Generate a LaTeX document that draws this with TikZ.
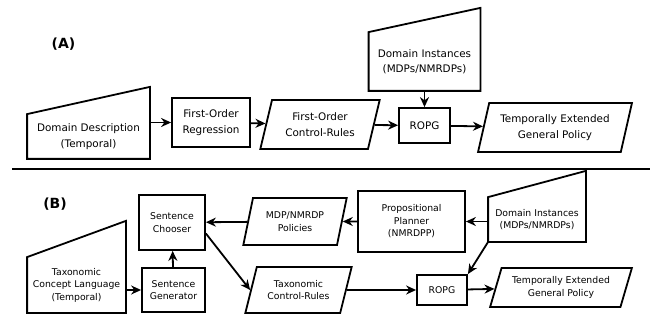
\documentclass[tikz,border=0pt]{standalone}
\usepackage{fontspec}
\setmainfont{DejaVu Sans}
\usetikzlibrary{calc,shapes.geometric,arrows.meta}

\begin{document}
\begin{tikzpicture}[x=1pt, y=1pt, >={Stealth[length=10pt,width=9pt]},
block/.style={rectangle, draw, line width=1.8pt, align=center, inner sep=2pt},
para/.style={trapezium, draw, line width=1.8pt, align=center, inner sep=2pt,
      trapezium stretches=true},
manin/.style={rectangle, align=center, inner sep=2pt},
shp/.style={line width=1.8pt, line join=miter},
lbl/.style={font=\fontsize{14}{16}\selectfont\bfseries},
fA/.style={font=\fontsize{10.4}{15.5}\selectfont},
fB/.style={font=\fontsize{9.3}{12.5}\selectfont},
every path/.append style={line width=1.8pt}]
 \useasboundingbox (0,0) rectangle (655,-320);

 % (A) first-order pipeline
 \node[lbl] (labA) at (63.5,-44) {(A)};
 \node[manin, fA, minimum width=121, minimum height=43] (desc) at (88.5,-136.5) {Domain Description\\(Temporal)};
 \node[block, fA, minimum width=78, minimum height=49] (regr) at (211,-122.5) {First-Order\\Regression};
 \node[para, fA, trapezium left angle=72, trapezium right angle=108, minimum width=120, minimum height=49,
   right of=regr, node distance=109pt, yshift=-2pt] (ctrlA) {First-Order\\Control-Rules};
 \node[block, fA, minimum width=51, minimum height=35, right of=ctrlA, node distance=104.5pt, yshift=-1pt] (ropgA) {ROPG};
 \node[para, fA, trapezium left angle=72, trapezium right angle=108, minimum width=154, minimum height=49,
   right of=ropgA, node distance=130.5pt, yshift=-2pt] (polA) {Temporally Extended\\General Policy};
 \node[manin, fA, minimum width=110, minimum height=57, above of=ropgA, node distance=64pt] (instA) {Domain Instances\\(MDPs/NMRDPs)};

 \draw[shp] (desc.south west) -- (desc.south east) -- ++(0,72) -- (desc.north west) -- cycle;
 \draw[shp] (instA.south west) -- (instA.south east) -- ++(0,83) -- (instA.north west) -- cycle;

 \draw[->] (desc.east |- regr) -- (regr);
 \draw[->] (regr) -- (ctrlA);
 \draw[->] (ctrlA) -- (ropgA);
 \draw[->] (instA) -- (ropgA);
 \draw[->] (ropgA) -- (polA);

 \coordinate (sepL) at (12,-169);
 \coordinate (sepR) at (650,-169);
 \draw[line width=2.6pt] (sepL) -- (sepR);

 % (B) taxonomic pipeline
 \node[lbl] (labB) at (55,-204) {(B)};
 \node[block, fB, minimum width=66, minimum height=55] (chooser) at (172,-222.5) {Sentence\\Chooser};
 \node[block, fB, minimum width=63, minimum height=44] (generator) at (173.5,-290) {Sentence\\Generator};
 \node[manin, fB, minimum width=97, minimum height=54] (tcl) at (76.5,-285) {Taxonomic\\Concept Language\\(Temporal)};
 \node[para, fB, trapezium left angle=73, trapezium right angle=107, minimum width=104, minimum height=47] (polB) at (295,-221.5) {MDP/NMRDP\\Policies};
 \node[para, fB, trapezium left angle=69, trapezium right angle=111, minimum width=107, minimum height=46] (ctrlB) at (298.5,-290) {Taxonomic\\Control-Rules};
 \node[block, fB, minimum width=107, minimum height=61, right of=polB, node distance=116.5pt] (planner) {Propositional\\Planner\\(NMRDPP)};
 \node[manin, fB, minimum width=96, minimum height=43] (instB) at (537,-219.5) {Domain Instances\\(MDPs/NMRDPs)};
 \node[block, fB, minimum width=50, minimum height=30, right of=ctrlB, node distance=143.5pt] (ropgB) {ROPG};
 \node[para, fB, trapezium left angle=69, trapezium right angle=111, minimum width=142, minimum height=39,
   right of=ropgB, node distance=119pt, yshift=2.5pt] (polB2) {Temporally Extended\\General Policy};

 \draw[shp] (tcl.south west) -- (tcl.south east) -- ++(0,92) -- (tcl.north west) -- cycle;
 \draw[shp] (instB.south west) -- (instB.south east) -- ++(0,71) -- (instB.north west) -- cycle;

 \draw[->] (instB.west |- planner) -- (planner);
 \draw[->] (planner) -- (polB);
 \draw[->] (polB) -- (chooser);
 \draw[->] (generator) -- (chooser);
 \draw[->] (tcl.east |- generator) -- (generator);
 \draw[->] (chooser.-18) -- (ctrlB.west);
 \draw[->] (ctrlB) -- (ropgB);
 \draw[->] (instB.south west) -- (ropgB.north east);
 \draw[->] (ropgB) -- (polB2);
\end{tikzpicture}
\end{document}
